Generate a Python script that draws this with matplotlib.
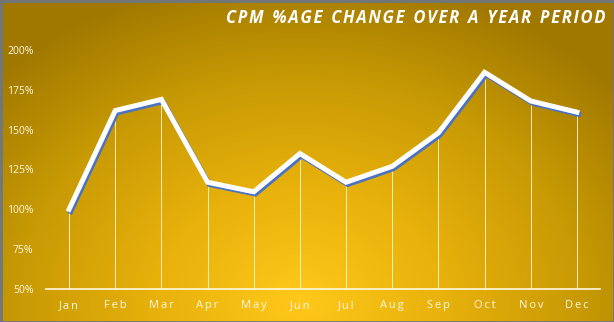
import numpy as np
import matplotlib.pyplot as plt
import matplotlib.patheffects as pe
from matplotlib.colors import LinearSegmentedColormap
from matplotlib.patches import Rectangle

# Data
months = ["Jan", "Feb", "Mar", "Apr", "May", "Jun",
          "Jul", "Aug", "Sep", "Oct", "Nov", "Dec"]
cpm_change = [100, 162, 169, 117, 111, 135, 117, 127, 148, 186, 168, 161]
y_ticks = [50, 75, 100, 125, 150, 175, 200]
title = "CPM %AGE CHANGE OVER A YEAR PERIOD"


def spaced(s, gap="\u2009", word_gap="  "):
    # fake letter spacing
    return word_gap.join(gap.join(w) for w in s.split(" "))


fig = plt.figure(figsize=(6.14, 3.22), dpi=100)

# Radial gold background
bg = fig.add_axes([0, 0, 1, 1], zorder=-1)
xx, yy = np.meshgrid(np.linspace(0, 614, 614), np.linspace(0, 322, 322))
r = np.sqrt(((xx - 300) / 420) ** 2 + ((yy - 300) / 330) ** 2)
r = np.clip(r, 0, 1)
gold = LinearSegmentedColormap.from_list(
    "gold", ["#ffc81a", "#e9b20c", "#c89a04", "#a07800"])
bg.imshow(r, cmap=gold, aspect="auto", extent=[0, 614, 322, 0])
bg.add_patch(Rectangle((0.5, 0.5), 613, 321, fill=False,
                       edgecolor="#6e7680", linewidth=2))
bg.set_xlim(0, 614)
bg.set_ylim(322, 0)
bg.axis("off")

ax = fig.add_axes([46 / 614, 1 - 289 / 322, 554 / 614, 239 / 322])
ax.patch.set_alpha(0)
x = np.arange(len(months))

# drop lines
ax.vlines(x, 50, cpm_change, color="#fff5c8", linewidth=0.7, alpha=0.9)

ax.plot(x, cpm_change, color="white", linewidth=3.6, solid_joinstyle="miter",
        path_effects=[pe.SimpleLineShadow(offset=(1.2, -1.6), shadow_color="#4a72c4",
                                          alpha=1.0), pe.Normal()])

ax.set_xlim(-0.5, 11.5)
ax.set_ylim(50, 200)
ax.set_xticks(x)
ax.set_xticklabels([spaced(m) for m in months], fontsize=8,
                   color="#fff8e0", family="Open Sans")
ax.set_yticks(y_ticks)
ax.set_yticklabels([f"{v}%" for v in y_ticks], fontsize=7.5,
                   color="#fff8e0", family="Open Sans")
ax.tick_params(length=0, axis="x", pad=8)
ax.tick_params(length=0, axis="y", pad=9)
for s in ["top", "right", "left"]:
    ax.spines[s].set_visible(False)
ax.spines["bottom"].set_color("#fff8e0")
ax.spines["bottom"].set_linewidth(1.2)

fig.text(605 / 614, 1 - 18 / 322, spaced(title, gap="\u200a", word_gap="  "),
         ha="right", va="center", fontsize=12, color="white",
         fontweight="bold", fontstyle="italic", family="Open Sans")

fig.savefig("out.png", dpi=100)
